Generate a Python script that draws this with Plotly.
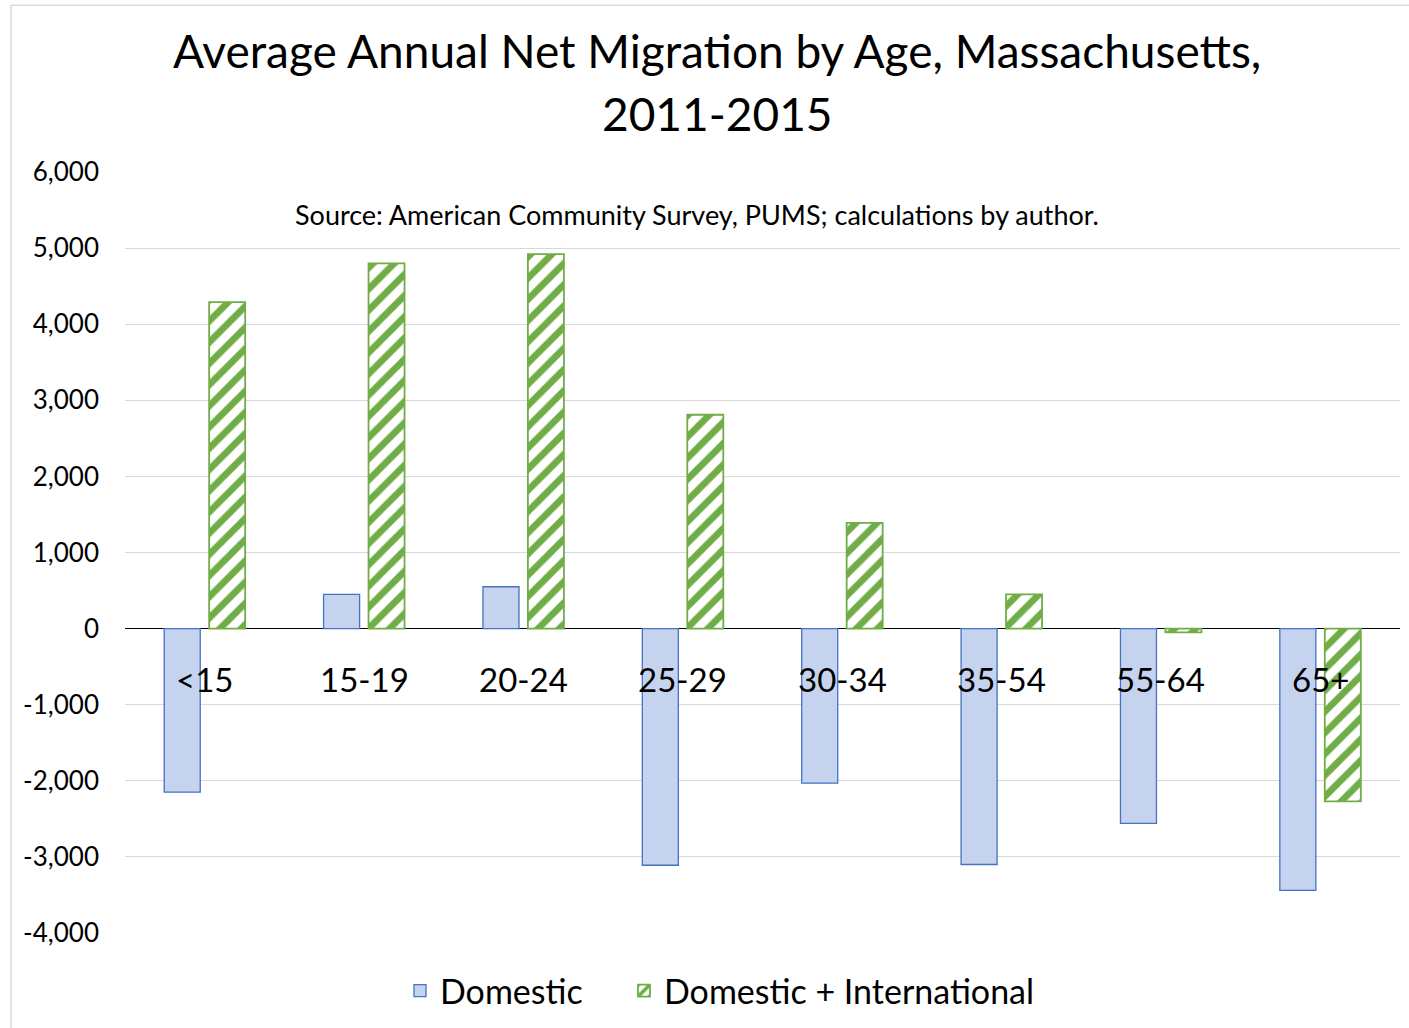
import plotly.graph_objects as go

categories = ["<15", "15-19", "20-24", "25-29", "30-34", "35-54", "55-64", "65+"]
domestic = [-2150, 450, 550, -3110, -2030, -3100, -2560, -3440]
dom_intl = [4290, 4800, 4920, 2810, 1390, 450, -50, -2270]
y_ticks = [6000, 5000, 4000, 3000, 2000, 1000, 0, -1000, -2000, -3000, -4000]
y_tick_text = ["6,000", "5,000", "4,000", "3,000", "2,000", "1,000", "0",
               "-1,000", "-2,000", "-3,000", "-4,000"]
title_lines = ["Average Annual Net Migration by Age, Massachusetts,", "2011-2015"]
source_text = "Source: American Community Survey, PUMS; calculations by author."

FONT = "Lato"
W, H = 1409, 1028
ML, MR, MT, MB = 125, 9, 172, 94
PW, PH = W - ML - MR, H - MT - MB


def px_x(x):
    return (x - ML) / PW


def px_y(y):
    return (H - MB - y) / PH


fig = go.Figure()
fig.add_trace(go.Bar(
    x=categories, y=domestic, name="Domestic", legend="legend",
    width=0.226, offset=-0.254,
    marker=dict(color="#c5d3ef", line=dict(color="#4472c4", width=1.3)),
))
fig.add_trace(go.Bar(
    x=categories, y=dom_intl, name="Domestic + International", legend="legend2",
    width=0.226, offset=0.028,
    marker=dict(color="white", line=dict(color="#70ad47", width=1.8),
                pattern=dict(shape="/", fgcolor="#70ad47", bgcolor="white",
                             fgopacity=1, size=15, solidity=0.45)),
))

for c in categories:
    fig.add_annotation(x=c, y=0, text=c, showarrow=False, yshift=-50,
                       xanchor="center", yanchor="middle",
                       font=dict(family=FONT, size=33, color="black"))

for txt, yc in zip(title_lines, [50, 113]):
    fig.add_annotation(xref="paper", yref="paper", x=px_x(717), y=px_y(yc),
                       text=txt, showarrow=False, xanchor="center", yanchor="middle",
                       font=dict(family=FONT, size=46, color="black"))

fig.add_annotation(xref="paper", yref="paper",
                   x=px_x(697), y=px_y(215),
                   text=source_text,
                   showarrow=False, xanchor="center", yanchor="middle",
                   font=dict(family=FONT, size=27, color="black"))

# outer chart border
fig.add_shape(type="rect", xref="paper", yref="paper", layer="below",
              x0=px_x(11), x1=px_x(1420), y0=px_y(1040), y1=px_y(5),
              line=dict(color="#d9d9d9", width=1.5), fillcolor="rgba(0,0,0,0)")

legend_common = dict(orientation="h", xanchor="left", yanchor="middle",
                     y=px_y(991), font=dict(family=FONT, size=34, color="black"),
                     itemwidth=30, bgcolor="rgba(0,0,0,0)")

fig.update_layout(
    width=W, height=H,
    margin=dict(l=ML, r=MR, t=MT, b=MB),
    paper_bgcolor="white", plot_bgcolor="white",
    barmode="group",
    showlegend=True,
    legend=dict(x=px_x(400), **legend_common),
    legend2=dict(x=px_x(624), **legend_common),
    font=dict(family=FONT, color="black"),
)
fig.update_xaxes(showticklabels=False, showgrid=False, zeroline=False,
                 showline=False, ticks="")
fig.update_yaxes(range=[-4000, 6000], tickvals=y_ticks, ticktext=y_tick_text,
                 showgrid=True, gridcolor="#d9d9d9", gridwidth=1.3,
                 zeroline=True, zerolinecolor="black", zerolinewidth=1.3,
                 showline=False, ticks="", ticklabelstandoff=25,
                 tickfont=dict(family=FONT, size=26, color="black"))

fig.write_html("out.html", config={"displayModeBar": False},
               post_script="document.body.style.margin='0';")
